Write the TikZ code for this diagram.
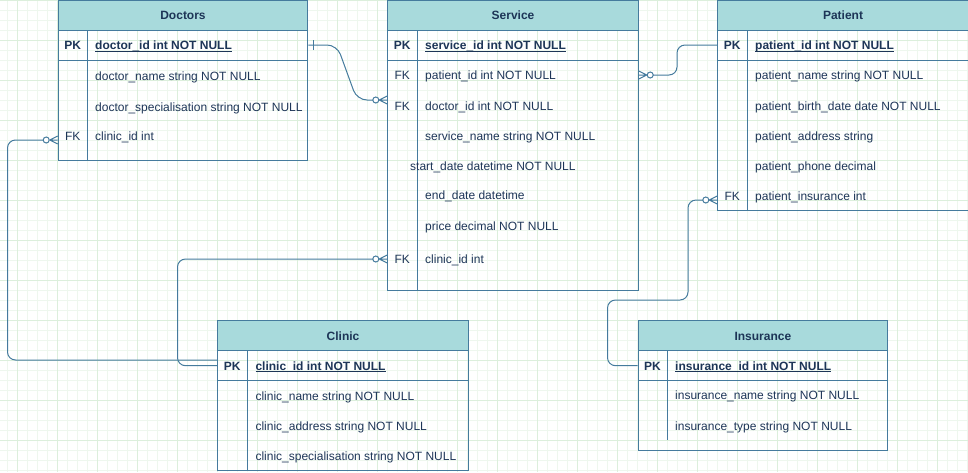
\documentclass[tikz,border=0pt]{standalone}
\usepackage{fontspec}
\setmainfont{Liberation Sans}
\usetikzlibrary{positioning, calc}
\definecolor{erfill}{HTML}{A8DADC}
\definecolor{erstroke}{HTML}{457B9D}
\definecolor{erfont}{HTML}{1D3557}
\definecolor{gridminor}{HTML}{EEF7EE}
\definecolor{gridmajor}{HTML}{DCEFDC}
\newcommand{\pkfield}[1]{\setbox0\hbox{\bfseries #1}\rlap{\rule[-2.2pt]{\wd0}{0.9pt}}\box0}

\begin{document}
\begin{tikzpicture}[
    x=1pt, y=-1pt,
    font=\fontsize{12pt}{14pt}\selectfont, text=erfont,
    entity/.style={draw=erstroke, line width=1pt, anchor=north west, inner sep=0pt, minimum width=#1},
    enthead/.style={entity=#1, fill=erfill, minimum height=30pt, font=\fontsize{12pt}{14pt}\selectfont\bfseries, text height=8.6pt, text depth=0pt},
    sep/.style={draw=erstroke, line width=1pt},
    keycol/.style={inner sep=0pt, text height=8.6pt, text depth=0pt},
    attr/.style={anchor=west, inner sep=0pt, text height=8.6pt, text depth=0pt},
    rel/.style={draw=erstroke, line width=1pt},
    pics/zeromany/.style={code={
        \draw[rel] (-8,0) -- (0,-4) (-8,0) -- (0,4) (-8,0) -- (0,0);
        \draw[rel, fill=white] (-11.5,0) circle[radius=3pt];
        \coordinate (-tail) at (-14.5,0);
    }}
]
\useasboundingbox (0,0) rectangle (968,472);

% background grid
\foreach \gx in {7.7,17.7,...,967.7} \draw[gridminor, line width=0.8pt] (\gx,0) -- (\gx,472);
\foreach \gy in {0.3,10.3,...,470.3} \draw[gridminor, line width=0.8pt] (0,\gy) -- (968,\gy);
\foreach \gx in {17.7,57.7,...,967.7} \draw[gridmajor, line width=0.8pt] (\gx,0) -- (\gx,472);
\foreach \gy in {0.3,40.3,...,470.3} \draw[gridmajor, line width=0.8pt] (0,\gy) -- (968,\gy);

% Doctors
\node[entity=249.6pt, minimum height=160pt] (doctors) at (57.7,0) {};
\node[enthead=249.6pt] (doctorsHead) at (57.7,0) {Doctors};
\draw[sep] (doctors.west |- 0,60) -- (doctors.east |- 0,60);
\draw[sep] (87.7,30) -- (87.7,160);
\node[keycol, font=\fontsize{12pt}{14pt}\selectfont\bfseries] (docPK) at (72.7,45) {PK};
\node[keycol] (docFK) at (72.7,136) {FK};
\node[attr] (docId) at (95,45) {\pkfield{doctor\_id int NOT NULL}};
\node[attr] (docName) at (95,76.5) {doctor\_name string NOT NULL};
\node[attr] (docSpec) at (95,107) {doctor\_specialisation string NOT NULL};
\node[attr] (docClinic) at (95,136) {clinic\_id int};

% Service
\node[entity=250.4pt, minimum height=290pt] (service) at (387.3,0) {};
\node[enthead=250.4pt] (serviceHead) at (387.3,0) {Service};
\draw[sep] (service.west |- 0,60) -- (service.east |- 0,60);
\draw[sep] (417.3,30) -- (417.3,290);
\node[keycol, font=\fontsize{12pt}{14pt}\selectfont\bfseries] (svcPK) at (402.3,45) {PK};
\node[keycol] (svcFK1) at (402.3,75) {FK};
\node[keycol] (svcFK2) at (402.3,106) {FK};
\node[keycol] (svcFK3) at (402.3,258.7) {FK};
\node[attr] (svcId) at (425,45) {\pkfield{service\_id int NOT NULL}};
\node[attr] (svcPatient) at (425,75) {patient\_id int NOT NULL};
\node[attr] (svcDoctor) at (425,106) {doctor\_id int NOT NULL};
\node[attr] (svcName) at (425,136.5) {service\_name string NOT NULL};
\node[attr] (svcStart) at (410,166.5) {start\_date datetime NOT NULL};
\node[attr] (svcEnd) at (425,195.5) {end\_date datetime};
\node[attr] (svcPrice) at (425,226) {price decimal NOT NULL};
\node[attr] (svcClinic) at (425,258.7) {clinic\_id int};

% Patient
\node[entity=250.4pt, minimum height=210pt] (patient) at (717.3,0) {};
\node[enthead=250.4pt] (patientHead) at (717.3,0) {Patient};
\draw[sep] (patient.west |- 0,60) -- (patient.east |- 0,60);
\draw[sep] (747.3,30) -- (747.3,210);
\node[keycol, font=\fontsize{12pt}{14pt}\selectfont\bfseries] (patPK) at (732.3,45) {PK};
\node[keycol] (patFK) at (732.3,196.3) {FK};
\node[attr] (patId) at (755,45) {\pkfield{patient\_id int NOT NULL}};
\node[attr] (patName) at (755,75.5) {patient\_name string NOT NULL};
\node[attr] (patBirth) at (755,106) {patient\_birth\_date date NOT NULL};
\node[attr] (patAddress) at (755,136.5) {patient\_address string};
\node[attr] (patPhone) at (755,166.5) {patient\_phone decimal};
\node[attr] (patInsurance) at (755,196.3) {patient\_insurance int};

% Clinic
\node[entity=250.4pt, minimum height=150pt] (clinic) at (217.3,320.3) {};
\node[enthead=250.4pt] (clinicHead) at (217.3,320.3) {Clinic};
\draw[sep] (clinic.west |- 0,380.3) -- (clinic.east |- 0,380.3);
\draw[sep] (247.3,350.3) -- (247.3,470.3);
\node[keycol, font=\fontsize{12pt}{14pt}\selectfont\bfseries] (cliPK) at (232.3,365.7) {PK};
\node[attr] (cliId) at (255.3,365.7) {\pkfield{clinic\_id int NOT NULL}};
\node[attr] (cliName) at (255.3,395.7) {clinic\_name string NOT NULL};
\node[attr] (cliAddress) at (255.3,425.7) {clinic\_address string NOT NULL};
\node[attr] (cliSpec) at (255.3,455.7) {clinic\_specialisation string NOT NULL};

% Insurance
\node[entity=249.3pt, minimum height=129.7pt] (insurance) at (637.7,320.3) {};
\node[enthead=249.3pt] (insuranceHead) at (637.7,320.3) {Insurance};
\draw[sep] (insurance.west |- 0,380.3) -- (insurance.east |- 0,380.3);
\draw[sep] (667.3,350.3) -- (667.3,440);
\node[keycol, font=\fontsize{12pt}{14pt}\selectfont\bfseries] (insPK) at (652.5,365.7) {PK};
\node[attr] (insId) at (675,365.7) {\pkfield{insurance\_id int NOT NULL}};
\node[attr] (insName) at (675,395.3) {insurance\_name string NOT NULL};
\node[attr] (insType) at (675,425.7) {insurance\_type string NOT NULL};

% relationship ends
\pic (svcDoc) at (service.west |- 0,100) {zeromany};
\pic[rotate=180] (svcPat) at (service.east |- 0,75) {zeromany};
\pic (docClin) at (doctors.west |- 0,140) {zeromany};
\pic (svcClin) at (service.west |- 0,259) {zeromany};
\pic (patIns) at (patient.west |- 0,200) {zeromany};
\draw[rel] ($(doctors.east |- docPK)+(4.7,-5)$) -- ++(0,10);

% relationships
\draw[rel, rounded corners=10pt] (doctors.east |- docPK) -- (337,45) -- (357,100) -- (svcDoc-tail);
\draw[rel, rounded corners=8pt] (svcPat-tail) -- (677,75) -- (677,45) -- (patient.west |- patPK);
\draw[rel, rounded corners=8pt] (docClin-tail) -- (7.5,140) -- (7.5,360) -- (clinic.west |- 0,360);
\draw[rel, rounded corners=8pt] (svcClin-tail) -- (177.5,259) -- (177.5,365.7) -- (clinic.west |- cliPK);
\draw[rel, rounded corners=8pt] (patIns-tail) -- (688,200) -- (688,300) -- (607.5,300) -- (607.5,365.7) -- (insurance.west |- insPK);

\end{tikzpicture}
\end{document}
